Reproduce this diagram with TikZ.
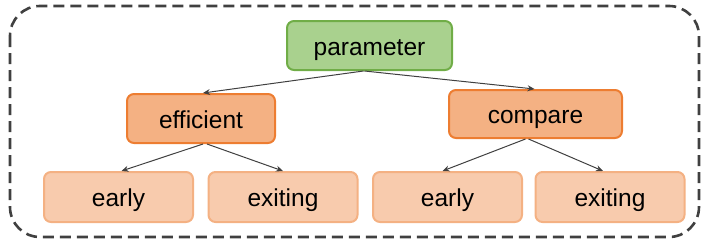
\documentclass[tikz,border=0pt]{standalone}
\usepackage{fontspec}
\setmainfont{Liberation Sans}
\usepackage{tikz}
\usetikzlibrary{arrows.meta, positioning}
\definecolor{RootFill}{HTML}{A9D18E}
\definecolor{RootInk}{HTML}{70AD47}
\definecolor{MidFill}{HTML}{F4B183}
\definecolor{MidInk}{HTML}{ED7D31}
\definecolor{LeafFill}{HTML}{F8CBAD}
\definecolor{LeafInk}{HTML}{F4B183}
\definecolor{LinkInk}{HTML}{404040}
\definecolor{FrameInk}{HTML}{404040}

\begin{document}
\begin{tikzpicture}[
    x=1pt, y=-1pt,
    font=\fontsize{24.5}{29}\selectfont,
    every node/.style={align=center},
    box/.style={
      rounded corners=7pt, line width=2pt,
      inner sep=0pt, minimum height=49pt, text=black,
      text height=19pt, text depth=0pt,
    },
    root/.style={box, draw=RootInk, fill=RootFill, minimum width=165pt},
    mid/.style={box, draw=MidInk, fill=MidFill},
    leaf/.style={box, draw=LeafInk, fill=LeafFill, minimum width=149pt, minimum height=50pt},
    tlink/.style={
      draw=LinkInk, line width=1pt,
      -{Stealth[length=7pt, width=6pt]}
    },
    frame/.style={
      draw=FrameInk, line width=2.6pt, rounded corners=30pt,
      dash pattern=on 11pt off 6pt,
    },
  ]
    \useasboundingbox (0,0) rectangle (705,241);
    \draw[frame] (10,6) rectangle (699,237);

    \node[root] (param) at (369.5,45.5) {parameter};

    \node[mid, minimum width=148pt] (eff) at (201,118.5) {efficient};
    \node[mid, minimum width=173pt, minimum height=48pt] (cmp) at (535.5,114) {compare};

    \node[leaf] (early1) at (118.5,197) {early};
    \node[leaf] (exit1) at (283,197) {exiting};
    \node[leaf] (early2) at (447.5,197) {early};
    \node[leaf] (exit2) at (610,197) {exiting};

    \draw[tlink] ([xshift=-6pt]param.south) -- ([xshift=2pt]eff.north);
    \draw[tlink] ([xshift=-5pt]param.south) -- ([xshift=-1pt]cmp.north);

    \draw[tlink] ([xshift=2pt]eff.south) -- ([xshift=3pt]early1.north);
    \draw[tlink] ([xshift=6pt]eff.south) -- (exit1.north);

    \draw[tlink] ([xshift=-10pt]cmp.south) -- ([xshift=-5pt]early2.north);
    \draw[tlink] ([xshift=-7pt]cmp.south) -- ([xshift=-7pt]exit2.north);
  \end{tikzpicture}
\end{document}
